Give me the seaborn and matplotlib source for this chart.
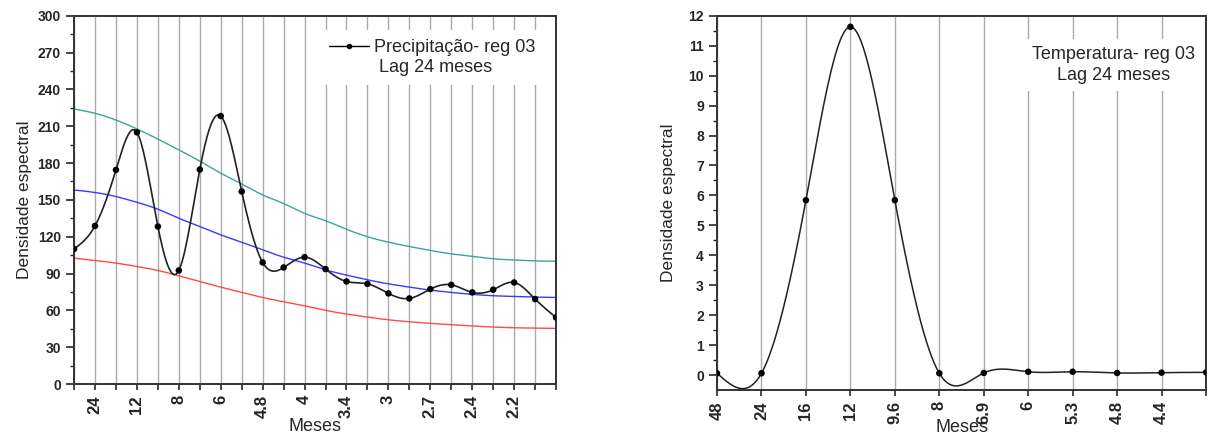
import numpy as np
import pandas as pd
import matplotlib
matplotlib.use('Agg')
import matplotlib.pyplot as plt
from matplotlib.lines import Line2D
import seaborn as sns

# ---- dados (frequência j -> período 48/j meses) ----
freq_prec = list(range(1, 25))
prec = [110, 128.8, 174.4, 205, 128.3, 92.5, 174.7, 218.3, 156.8, 99, 94.9, 103.3,
        93.6, 83.5, 81.6, 73.8, 69.7, 77.3, 80.8, 74.6, 76.8, 82.7, 69.2, 54.2]
lim_sup = [224, 220.5, 215, 207.8, 199.5, 190.7, 181.5, 171.7, 163, 154, 147, 139,
           133, 126, 120, 115.5, 112, 108.8, 106, 104, 102, 101, 100.3, 100]
media = [158, 156, 152.7, 148, 142.4, 135, 128.3, 121.5, 115.5, 109.3, 103.3, 98.5,
         93, 88.7, 84.9, 81.6, 78.9, 76.5, 74.6, 73, 71.9, 71.3, 70.8, 70.5]
lim_inf = [102.5, 100.6, 98.5, 95.7, 92.5, 88.1, 83.5, 78.9, 74.6, 70.5, 67, 63.7,
           60, 57, 54.5, 52.3, 50.7, 49.4, 48.3, 47.2, 46.4, 45.8, 45.6, 45.3]
rotulos_prec = ['', '24', '', '12', '', '8', '', '6', '', '4.8', '', '4', '', '3.4', '',
                '3', '', '2.7', '', '2.4', '', '2.2', '', '']

freq_temp = list(range(1, 13))
temp = [0.06, 0.06, 5.84, 11.63, 5.84, 0.06, 0.07, 0.11, 0.11, 0.07, 0.08, 0.09]
rotulos_temp = ['48', '24', '16', '12', '9.6', '8', '6.9', '6', '5.3', '4.8', '4.4', '']


def spline_natural(x, y, n=600):
    # spline cúbico natural (parecido com o "spline" do Origin)
    x = np.asarray(x, float)
    y = np.asarray(y, float)
    h = np.diff(x)
    m = len(x)
    A = np.zeros((m, m))
    b = np.zeros(m)
    A[0, 0] = A[-1, -1] = 1
    for i in range(1, m - 1):
        A[i, i - 1] = h[i - 1]
        A[i, i] = 2 * (h[i - 1] + h[i])
        A[i, i + 1] = h[i]
        b[i] = 6 * ((y[i + 1] - y[i]) / h[i] - (y[i] - y[i - 1]) / h[i - 1])
    M = np.linalg.solve(A, b)
    xs = np.linspace(x[0], x[-1], n)
    idx = np.clip(np.searchsorted(x, xs) - 1, 0, m - 2)
    x0, x1 = x[idx], x[idx + 1]
    hh = x1 - x0
    t0, t1 = x1 - xs, xs - x0
    ys = (M[idx] * t0 ** 3 + M[idx + 1] * t1 ** 3) / (6 * hh) \
        + (y[idx] / hh - M[idx] * hh / 6) * t0 + (y[idx + 1] / hh - M[idx + 1] * hh / 6) * t1
    return pd.DataFrame({'freq': xs, 'valor': ys})


sns.set_style('ticks')
plt.rcParams['font.family'] = ['Liberation Sans', 'DejaVu Sans']

fig = plt.figure(figsize=(12.12, 4.42), dpi=100)
ax1 = fig.add_axes([0.0611, 0.1312, 0.3977, 0.8333])
ax2 = fig.add_axes([0.5916, 0.1176, 0.4035, 0.8468])

cor_grade = '#aaaaaa'

# ---------------- precipitação ----------------
ax1.set_axisbelow(True)
ax1.grid(axis='x', color=cor_grade, linewidth=1)
sns.lineplot(data=spline_natural(freq_prec, lim_sup), x='freq', y='valor', ax=ax1,
             color='#3aa59a', linewidth=1)
sns.lineplot(data=spline_natural(freq_prec, media), x='freq', y='valor', ax=ax1,
             color='#3a3aff', linewidth=1)
sns.lineplot(data=spline_natural(freq_prec, lim_inf), x='freq', y='valor', ax=ax1,
             color='#ff4a4a', linewidth=1)
sns.lineplot(data=spline_natural(freq_prec, prec), x='freq', y='valor', ax=ax1,
             color='#222222', linewidth=1.2)
sns.scatterplot(x=freq_prec, y=prec, ax=ax1, color='black', s=22, edgecolor='none', zorder=5)

ax1.set_xlim(1, 24)
ax1.set_ylim(0, 300)
ax1.set_xticks(freq_prec)
ax1.set_xticklabels(rotulos_prec, rotation=90, fontweight='bold', fontsize=12)
ax1.set_yticks(np.arange(0, 301, 30))
ax1.set_yticks(np.arange(0, 301, 15), minor=True)
ax1.tick_params(axis='y', labelsize=10, length=6, width=1.2, direction='out')
ax1.tick_params(axis='y', which='minor', length=3, width=1)
ax1.tick_params(axis='x', length=4, width=1.2, direction='out', pad=4)
for lab in ax1.get_yticklabels():
    lab.set_fontweight('bold')
ax1.set_ylabel('Densidade espectral', fontsize=12.5)
ax1.set_xlabel('Meses', fontsize=13, labelpad=0)

handles = [Line2D([], [], color='black', marker='o', markersize=3, linewidth=1),
           Line2D([], [], color='none')]
leg = ax1.legend(handles, ['Precipitação- reg 03', ' Lag 24 meses'], loc='upper right',
                 bbox_to_anchor=(0.995, 0.985), fontsize=13, frameon=True,
                 handlelength=2.2, handletextpad=0.3, labelspacing=0.15,
                 borderpad=0.5, fancybox=False)
leg.get_frame().set_facecolor('white')
leg.get_frame().set_edgecolor('none')
leg.get_frame().set_alpha(1)

# ---------------- temperatura ----------------
ax2.set_axisbelow(True)
ax2.grid(axis='x', color=cor_grade, linewidth=1)
sns.lineplot(data=spline_natural(freq_temp, temp), x='freq', y='valor', ax=ax2,
             color='#222222', linewidth=1.1)
sns.scatterplot(x=freq_temp, y=temp, ax=ax2, color='black', s=22, edgecolor='none', zorder=5)

ax2.set_xlim(1, 12)
ax2.set_ylim(-0.5, 12)
ax2.set_xticks(freq_temp)
ax2.set_xticklabels(rotulos_temp, rotation=90, fontweight='bold', fontsize=12)
ax2.set_yticks(np.arange(0, 13, 1))
ax2.set_yticks(np.arange(0, 12.01, 0.5), minor=True)
ax2.tick_params(axis='y', labelsize=10, length=6, width=1.2, direction='out')
ax2.tick_params(axis='y', which='minor', length=3, width=1)
ax2.tick_params(axis='x', length=4, width=1.2, direction='out', pad=4)
for lab in ax2.get_yticklabels():
    lab.set_fontweight('bold')
ax2.set_ylabel('Densidade espectral', fontsize=12.5, labelpad=9)
ax2.set_xlabel('Meses', fontsize=13, labelpad=-4)
ax2.text(0.81, 0.92, 'Temperatura- reg 03\nLag 24 meses', transform=ax2.transAxes,
         ha='center', va='top', multialignment='center', fontsize=13, linespacing=1.35,
         bbox=dict(facecolor='white', edgecolor='none', pad=5))

for ax in (ax1, ax2):
    for sp in ax.spines.values():
        sp.set_color('#333333')
        sp.set_linewidth(1.4)

fig.savefig('out.png', dpi=100)
